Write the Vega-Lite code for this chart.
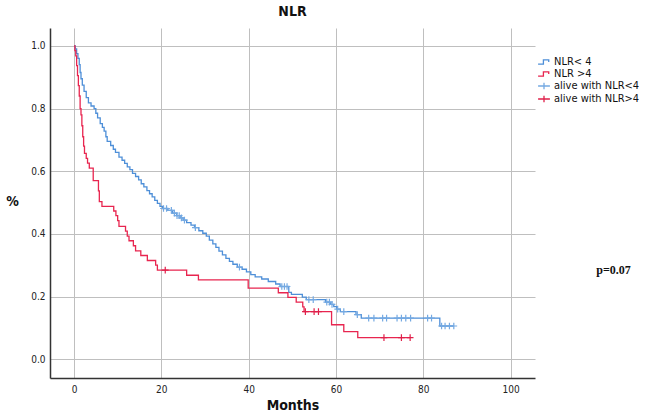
{
  "$schema": "https://vega.github.io/schema/vega-lite/v6.json",
  "autosize": {"type": "none"},
  "padding": {"left": 50, "top": 28, "right": 111, "bottom": 39},
  "width": 485,
  "height": 350,
  "background": "white",
  "title": {"text": "NLR", "fontSize": 14, "fontWeight": "bold", "font": "Liberation Sans Narrow, DejaVu Sans Condensed, sans-serif", "color": "#111", "offset": 9, "anchor": "middle"},
  "config": {
    "view": {"stroke": null},
    "axis": {"gridColor": "#bfbfbf", "gridWidth": 1, "domainColor": "#333", "domainWidth": 1.5, "ticks": false, "labelFont": "Liberation Sans Narrow, DejaVu Sans Condensed, sans-serif", "labelFontSize": 10, "labelColor": "#222", "titleFont": "Liberation Sans Narrow, DejaVu Sans Condensed, sans-serif", "titleFontSize": 14, "titleFontWeight": "bold", "titleColor": "#111"}
  },
  "datasets": {
    "curves": [
      {"t":0,"s":1.0,"g":"NLR< 4"},{"t":0.3,"s":0.99,"g":"NLR< 4"},{"t":0.6,"s":0.975,"g":"NLR< 4"},{"t":0.9,"s":0.96,"g":"NLR< 4"},{"t":1.2,"s":0.94,"g":"NLR< 4"},{"t":1.4,"s":0.915,"g":"NLR< 4"},{"t":1.6,"s":0.895,"g":"NLR< 4"},{"t":1.9,"s":0.875,"g":"NLR< 4"},{"t":2.3,"s":0.855,"g":"NLR< 4"},{"t":2.8,"s":0.835,"g":"NLR< 4"},{"t":3.3,"s":0.818,"g":"NLR< 4"},{"t":3.9,"s":0.808,"g":"NLR< 4"},{"t":4.6,"s":0.8,"g":"NLR< 4"},{"t":5.0,"s":0.785,"g":"NLR< 4"},{"t":5.4,"s":0.77,"g":"NLR< 4"},{"t":6.0,"s":0.752,"g":"NLR< 4"},{"t":6.5,"s":0.74,"g":"NLR< 4"},{"t":6.9,"s":0.728,"g":"NLR< 4"},{"t":7.3,"s":0.71,"g":"NLR< 4"},{"t":7.6,"s":0.695,"g":"NLR< 4"},{"t":8.4,"s":0.682,"g":"NLR< 4"},{"t":9.0,"s":0.67,"g":"NLR< 4"},{"t":9.5,"s":0.66,"g":"NLR< 4"},{"t":10.3,"s":0.645,"g":"NLR< 4"},{"t":11.0,"s":0.635,"g":"NLR< 4"},{"t":11.6,"s":0.625,"g":"NLR< 4"},{"t":12.2,"s":0.614,"g":"NLR< 4"},{"t":12.8,"s":0.605,"g":"NLR< 4"},{"t":13.4,"s":0.593,"g":"NLR< 4"},{"t":14.1,"s":0.583,"g":"NLR< 4"},{"t":14.8,"s":0.572,"g":"NLR< 4"},{"t":15.4,"s":0.56,"g":"NLR< 4"},{"t":16.0,"s":0.55,"g":"NLR< 4"},{"t":16.7,"s":0.538,"g":"NLR< 4"},{"t":17.3,"s":0.528,"g":"NLR< 4"},{"t":17.9,"s":0.518,"g":"NLR< 4"},{"t":18.5,"s":0.507,"g":"NLR< 4"},{"t":19.1,"s":0.497,"g":"NLR< 4"},{"t":19.7,"s":0.488,"g":"NLR< 4"},{"t":20.3,"s":0.481,"g":"NLR< 4"},{"t":21.5,"s":0.475,"g":"NLR< 4"},{"t":22.6,"s":0.466,"g":"NLR< 4"},{"t":23.5,"s":0.458,"g":"NLR< 4"},{"t":24.3,"s":0.451,"g":"NLR< 4"},{"t":25.0,"s":0.444,"g":"NLR< 4"},{"t":25.8,"s":0.436,"g":"NLR< 4"},{"t":26.8,"s":0.428,"g":"NLR< 4"},{"t":27.6,"s":0.42,"g":"NLR< 4"},{"t":28.6,"s":0.41,"g":"NLR< 4"},{"t":29.5,"s":0.402,"g":"NLR< 4"},{"t":30.3,"s":0.393,"g":"NLR< 4"},{"t":31.0,"s":0.38,"g":"NLR< 4"},{"t":31.8,"s":0.368,"g":"NLR< 4"},{"t":32.5,"s":0.357,"g":"NLR< 4"},{"t":33.2,"s":0.345,"g":"NLR< 4"},{"t":34.0,"s":0.333,"g":"NLR< 4"},{"t":34.8,"s":0.322,"g":"NLR< 4"},{"t":35.6,"s":0.312,"g":"NLR< 4"},{"t":36.4,"s":0.303,"g":"NLR< 4"},{"t":37.4,"s":0.294,"g":"NLR< 4"},{"t":38.5,"s":0.287,"g":"NLR< 4"},{"t":39.5,"s":0.279,"g":"NLR< 4"},{"t":40.5,"s":0.27,"g":"NLR< 4"},{"t":41.5,"s":0.263,"g":"NLR< 4"},{"t":43.0,"s":0.256,"g":"NLR< 4"},{"t":44.5,"s":0.248,"g":"NLR< 4"},{"t":46.2,"s":0.24,"g":"NLR< 4"},{"t":47.2,"s":0.232,"g":"NLR< 4"},{"t":49.2,"s":0.213,"g":"NLR< 4"},{"t":49.8,"s":0.207,"g":"NLR< 4"},{"t":52.3,"s":0.198,"g":"NLR< 4"},{"t":53.2,"s":0.19,"g":"NLR< 4"},{"t":57.6,"s":0.182,"g":"NLR< 4"},{"t":58.8,"s":0.175,"g":"NLR< 4"},{"t":59.5,"s":0.168,"g":"NLR< 4"},{"t":60.2,"s":0.16,"g":"NLR< 4"},{"t":61.0,"s":0.152,"g":"NLR< 4"},{"t":64.6,"s":0.142,"g":"NLR< 4"},{"t":65.8,"s":0.131,"g":"NLR< 4"},{"t":83.8,"s":0.106,"g":"NLR< 4"},{"t":87.0,"s":0.106,"g":"NLR< 4"},
      {"t":0,"s":1.0,"g":"NLR >4"},{"t":0.2,"s":0.985,"g":"NLR >4"},{"t":0.4,"s":0.968,"g":"NLR >4"},{"t":0.6,"s":0.937,"g":"NLR >4"},{"t":0.8,"s":0.905,"g":"NLR >4"},{"t":1.0,"s":0.873,"g":"NLR >4"},{"t":1.2,"s":0.84,"g":"NLR >4"},{"t":1.4,"s":0.8,"g":"NLR >4"},{"t":1.6,"s":0.78,"g":"NLR >4"},{"t":1.8,"s":0.745,"g":"NLR >4"},{"t":2.0,"s":0.71,"g":"NLR >4"},{"t":2.2,"s":0.68,"g":"NLR >4"},{"t":2.4,"s":0.657,"g":"NLR >4"},{"t":2.8,"s":0.641,"g":"NLR >4"},{"t":3.1,"s":0.626,"g":"NLR >4"},{"t":3.5,"s":0.61,"g":"NLR >4"},{"t":4.4,"s":0.57,"g":"NLR >4"},{"t":5.6,"s":0.537,"g":"NLR >4"},{"t":5.8,"s":0.503,"g":"NLR >4"},{"t":6.4,"s":0.488,"g":"NLR >4"},{"t":9.1,"s":0.473,"g":"NLR >4"},{"t":9.6,"s":0.458,"g":"NLR >4"},{"t":10.0,"s":0.442,"g":"NLR >4"},{"t":10.3,"s":0.424,"g":"NLR >4"},{"t":11.8,"s":0.409,"g":"NLR >4"},{"t":12.2,"s":0.393,"g":"NLR >4"},{"t":12.6,"s":0.378,"g":"NLR >4"},{"t":13.6,"s":0.362,"g":"NLR >4"},{"t":14.1,"s":0.346,"g":"NLR >4"},{"t":15.3,"s":0.331,"g":"NLR >4"},{"t":16.8,"s":0.315,"g":"NLR >4"},{"t":18.7,"s":0.3,"g":"NLR >4"},{"t":19.1,"s":0.284,"g":"NLR >4"},{"t":25.8,"s":0.268,"g":"NLR >4"},{"t":28.5,"s":0.253,"g":"NLR >4"},{"t":39.9,"s":0.227,"g":"NLR >4"},{"t":46.8,"s":0.212,"g":"NLR >4"},{"t":49.0,"s":0.197,"g":"NLR >4"},{"t":50.9,"s":0.182,"g":"NLR >4"},{"t":52.4,"s":0.167,"g":"NLR >4"},{"t":52.7,"s":0.152,"g":"NLR >4"},{"t":59.0,"s":0.11,"g":"NLR >4"},{"t":61.8,"s":0.088,"g":"NLR >4"},{"t":65.0,"s":0.069,"g":"NLR >4"},{"t":77.0,"s":0.069,"g":"NLR >4"}
    ],
    "censored": [
      {"t":20.5,"s":0.481,"g":"alive with NLR<4"},{"t":21.2,"s":0.481,"g":"alive with NLR<4"},{"t":22.3,"s":0.475,"g":"alive with NLR<4"},{"t":23.0,"s":0.466,"g":"alive with NLR<4"},{"t":23.6,"s":0.458,"g":"alive with NLR<4"},{"t":24.1,"s":0.458,"g":"alive with NLR<4"},{"t":24.6,"s":0.451,"g":"alive with NLR<4"},{"t":25.3,"s":0.444,"g":"alive with NLR<4"},{"t":27.8,"s":0.42,"g":"alive with NLR<4"},{"t":37.9,"s":0.294,"g":"alive with NLR<4"},{"t":47.6,"s":0.232,"g":"alive with NLR<4"},{"t":48.2,"s":0.232,"g":"alive with NLR<4"},{"t":48.8,"s":0.232,"g":"alive with NLR<4"},{"t":53.8,"s":0.19,"g":"alive with NLR<4"},{"t":54.8,"s":0.19,"g":"alive with NLR<4"},{"t":57.9,"s":0.182,"g":"alive with NLR<4"},{"t":58.5,"s":0.182,"g":"alive with NLR<4"},{"t":59.1,"s":0.175,"g":"alive with NLR<4"},{"t":60.4,"s":0.16,"g":"alive with NLR<4"},{"t":61.8,"s":0.152,"g":"alive with NLR<4"},{"t":64.9,"s":0.142,"g":"alive with NLR<4"},{"t":67.5,"s":0.131,"g":"alive with NLR<4"},{"t":68.7,"s":0.131,"g":"alive with NLR<4"},{"t":70.7,"s":0.131,"g":"alive with NLR<4"},{"t":71.6,"s":0.131,"g":"alive with NLR<4"},{"t":74.0,"s":0.131,"g":"alive with NLR<4"},{"t":75.0,"s":0.131,"g":"alive with NLR<4"},{"t":76.0,"s":0.131,"g":"alive with NLR<4"},{"t":77.1,"s":0.131,"g":"alive with NLR<4"},{"t":81.0,"s":0.131,"g":"alive with NLR<4"},{"t":81.9,"s":0.131,"g":"alive with NLR<4"},{"t":84.2,"s":0.106,"g":"alive with NLR<4"},{"t":85.0,"s":0.106,"g":"alive with NLR<4"},{"t":86.0,"s":0.106,"g":"alive with NLR<4"},{"t":87.0,"s":0.106,"g":"alive with NLR<4"},
      {"t":20.9,"s":0.284,"g":"alive with NLR>4"},{"t":53.0,"s":0.152,"g":"alive with NLR>4"},{"t":55.0,"s":0.152,"g":"alive with NLR>4"},{"t":56.0,"s":0.152,"g":"alive with NLR>4"},{"t":71.0,"s":0.069,"g":"alive with NLR>4"},{"t":75.0,"s":0.069,"g":"alive with NLR>4"},{"t":77.0,"s":0.069,"g":"alive with NLR>4"}
    ],
    "notes": [{"t":123.6,"s":0.284,"label":"p=0.07"}]
  },
  "encoding": {
    "x": {"field": "t", "type": "quantitative", "scale": {"domain": [-5.5, 105.6], "nice": false, "zero": false}, "axis": {"values": [0,20,40,60,80,100], "title": "Months", "titlePadding": 4, "labelPadding": 6, "grid": true}},
    "y": {"field": "s", "type": "quantitative", "scale": {"domain": [-0.06, 1.057], "nice": false, "zero": false}, "axis": {"values": [0,0.2,0.4,0.6,0.8,1.0], "format": ".1f", "title": "%", "titleAngle": 0, "titleX": -38, "titleY": 180, "labelPadding": 5, "grid": true}}
  },
  "layer": [
    {
      "data": {"name": "curves"},
      "mark": {"type": "line", "interpolate": "step-after", "strokeWidth": 1.3},
      "encoding": {
        "color": {"field": "g", "type": "nominal",
          "scale": {"domain": ["NLR< 4","NLR >4","alive with NLR<4","alive with NLR>4"], "range": ["#4E8FD8","#E8254F","#74A9E2","#E0204A"]},
          "legend": {"title": null, "orient": "none", "legendX": 487, "legendY": 27, "labelFont": "Liberation Sans Narrow, DejaVu Sans Condensed, sans-serif", "labelFontSize": 11, "labelColor": "#111", "labelOffset": 3, "rowPadding": 0, "padding": 0, "symbolSize": 140, "symbolStrokeWidth": 1.3, "symbolFillColor": "transparent",
            "encode": {"symbols": {"update": {"shape": {"signal": "(datum.value == 'NLR< 4' || datum.value == 'NLR >4') ? 'M-1,0.35H-0.1V-0.35H0.8V0' : 'M-1,0H1M0,-0.55V0.55'"}, "fill": {"value": "transparent"}, "strokeWidth": {"value": 1.3}}}}}
        }
      }
    },
    {
      "data": {"name": "censored"},
      "mark": {"type": "point", "shape": "M0,-1V1M-1,0H1", "filled": false, "size": 45, "strokeWidth": 1.2, "opacity": 1},
      "encoding": {"color": {"field": "g", "type": "nominal"}}
    },
    {
      "data": {"name": "notes"},
      "mark": {"type": "text", "font": "Liberation Serif", "fontWeight": "bold", "fontSize": 12, "color": "#111", "clip": false},
      "encoding": {"text": {"field": "label"}}
    }
  ]
}
